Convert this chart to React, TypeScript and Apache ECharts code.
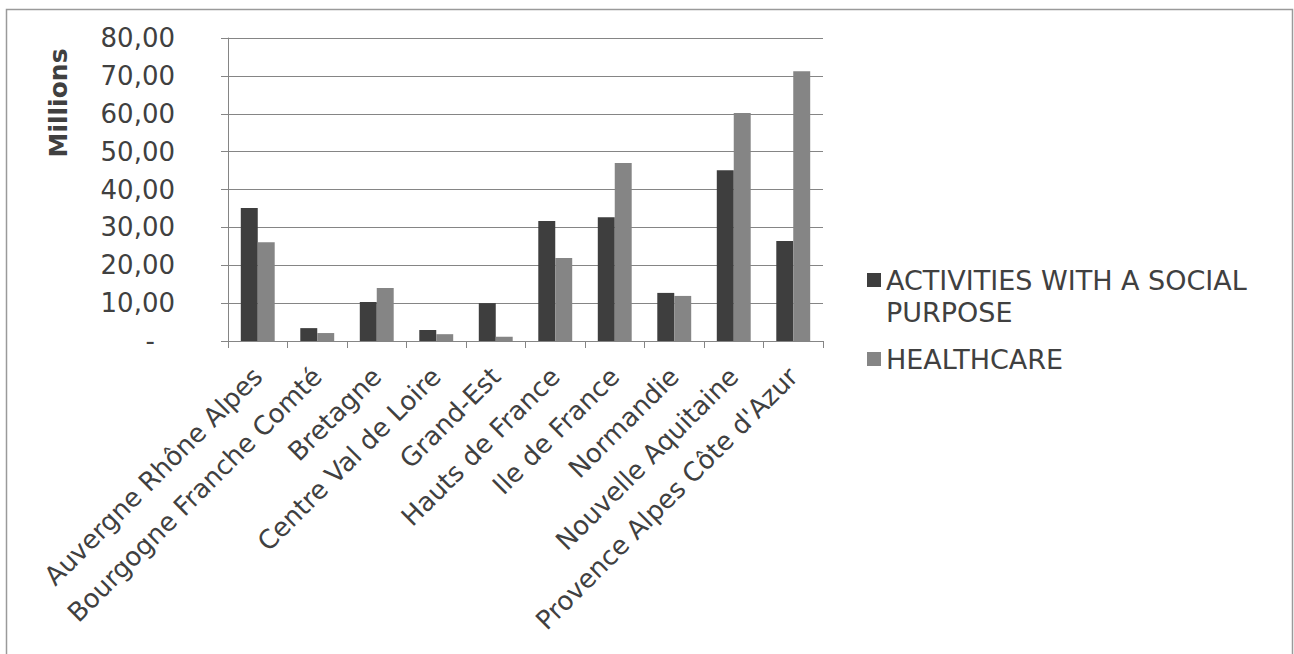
import React, { useEffect, useRef } from "react";
import * as echarts from "echarts";

const categories = [
  "Auvergne Rhône Alpes",
  "Bourgogne Franche Comté",
  "Bretagne",
  "Centre Val de Loire",
  "Grand-Est",
  "Hauts de France",
  "Ile de France",
  "Normandie",
  "Nouvelle Aquitaine",
  "Provence Alpes Côte d'Azur",
];

const socialName = "ACTIVITIES WITH A SOCIAL PURPOSE";
const healthName = "HEALTHCARE";

const socialValues = [35.1, 3.4, 10.3, 2.9, 10.0, 31.7, 32.7, 12.7, 45.1, 26.4];
const healthValues = [26.1, 2.1, 14.0, 1.8, 1.1, 21.9, 47.0, 11.9, 60.2, 71.2];

const yTicks = [0, 10, 20, 30, 40, 50, 60, 70, 80];

const FONT = "DejaVu Sans";
const TEXT = "#404040";
const GRID = "#858585";

export default function App() {
  const ref = useRef<HTMLDivElement>(null);
  useEffect(() => {
    if (!ref.current) return;
    const chart = echarts.init(ref.current, undefined, { renderer: "svg" });
    chart.setOption({
      animation: false,
      backgroundColor: "#ffffff",
      textStyle: { fontFamily: FONT, color: TEXT },
      grid: { left: 228, right: 471, top: 38, bottom: 313, containLabel: false },
      graphic: [
        {
          type: "rect",
          shape: { x: 6.5, y: 9.5, width: 1286, height: 660 },
          style: { fill: "none", stroke: "#9a9a9a", lineWidth: 1.5 },
          silent: true,
        },
        {
          type: "text",
          x: 58,
          y: 103,
          rotation: Math.PI / 2,
          style: {
            text: "Millions",
            font: `bold 25px "${FONT}"`,
            fill: TEXT,
            align: "center",
            verticalAlign: "middle",
          },
        },
      ],
      legend: [
        {
          orient: "vertical",
          left: 862,
          top: 227,
          itemWidth: 14,
          itemHeight: 14,
          icon: "rect",
          data: [socialName],
          formatter: () => "\u00a0\nACTIVITIES WITH A SOCIAL\nPURPOSE",
          textStyle: {
            fontFamily: FONT,
            fontSize: 27,
            color: TEXT,
            lineHeight: 32,
          },
        },
        {
          orient: "vertical",
          left: 862,
          top: 338,
          itemWidth: 14,
          itemHeight: 14,
          icon: "rect",
          data: [healthName],
          textStyle: { fontFamily: FONT, fontSize: 27, color: TEXT, lineHeight: 32 },
        },
      ],
      xAxis: {
        type: "category",
        data: categories,
        axisLine: { show: true, lineStyle: { color: GRID, width: 1 } },
        axisTick: { show: true, length: 7, lineStyle: { color: GRID } },
        axisLabel: {
          rotate: 45,
          interval: 0,
          margin: 31,
          fontFamily: FONT,
          fontSize: 26,
          color: TEXT,
        },
      },
      yAxis: {
        type: "value",
        min: 0,
        max: yTicks[yTicks.length - 1],
        interval: 10,
        axisLine: { show: true, lineStyle: { color: GRID, width: 1 } },
        axisTick: { show: true, length: 7, lineStyle: { color: GRID } },
        splitLine: { show: true, lineStyle: { color: GRID, width: 1.2 } },
        axisLabel: {
          margin: 53,
          fontFamily: FONT,
          fontSize: 26,
          color: TEXT,
          formatter: (v: number) =>
            v === 0 ? "{d|-}" : v.toFixed(2).replace(".", ","),
          rich: {
            d: { padding: [0, 20, 0, 0], fontSize: 26, fontFamily: FONT, color: TEXT },
          },
        },
      },
      series: [
        {
          name: socialName,
          type: "bar",
          data: socialValues,
          barGap: "0%",
          barCategoryGap: "43%",
          itemStyle: { color: "#3e3e3e" },
        },
        {
          name: healthName,
          type: "bar",
          data: healthValues,
          itemStyle: { color: "#858585" },
        },
      ],
    });
    return () => chart.dispose();
  }, []);
  return (
    <div
      ref={ref}
      style={{ position: "fixed", left: 0, top: 0, width: 1294, height: 654, background: "#fff" }}
    />
  );
}
